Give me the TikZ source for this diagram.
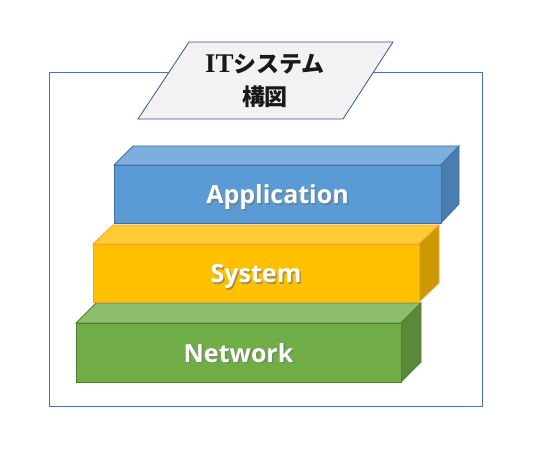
\documentclass[tikz,border=0pt]{standalone}
\usepackage{fontspec}
\setmainfont{Liberation Serif}
\newfontfamily\jpfont{Noto Sans CJK JP}
\newfontfamily\labelfont{Open Sans}
\definecolor{frameblue}{HTML}{4472C4}
\definecolor{paraline}{HTML}{2F5597}
\definecolor{parafill}{HTML}{F2F2F2}
\definecolor{appfront}{HTML}{5B9BD5}
\definecolor{apptop}{HTML}{7CAFDD}
\definecolor{appside}{HTML}{4A7EB0}
\definecolor{appline}{HTML}{41719C}
\definecolor{sysfront}{HTML}{FFC000}
\definecolor{systop}{HTML}{FFCD33}
\definecolor{sysside}{HTML}{CC9A00}
\definecolor{sysline}{HTML}{F4A040}
\definecolor{netfront}{HTML}{70AD47}
\definecolor{nettop}{HTML}{8DBE6C}
\definecolor{netside}{HTML}{5A8A39}
\definecolor{netline}{HTML}{507E32}
\tikzset{
  face/.style={line width=0.8pt, line join=miter},
  front/.style={face, inner sep=0pt},
  lbl/.style={inner sep=0pt, anchor=base, font=\labelfont\bfseries\fontsize{25}{28}\selectfont, text=white},
  shadowtxt/.style={lbl, text=black!55, opacity=0.6},
}
\begin{document}
\begin{tikzpicture}[x=1pt,y=-1pt]
\useasboundingbox (0,0) rectangle (550,460);
% outer frame
\draw[frameblue, line width=0.7pt] (49,72) rectangle (482,406);
% title parallelogram
\draw[paraline, fill=parafill, line width=0.8pt] (189,42) -- (393,42) -- (343,119) -- (138,119) -- cycle;
\node[align=center, inner sep=0pt, font=\fontsize{23}{33}\selectfont, text=black!90] (title) at (265,81) {{\fontsize{27}{33}\selectfont\bfseries IT}{\jpfont\bfseries システム}\\{\jpfont\bfseries 構図}};
% Network
\fill[nettop, draw=netline, face] (76,323) -- (96,303) -- (421,303) -- (401,323) -- cycle;
\fill[netside, draw=netline, face] (401,323) -- (421,303) -- (421,362) -- (401,382) -- cycle;
\node[front, fill=netfront, draw=netline, minimum width=325pt, minimum height=59pt] (net) at (238.5,352.5) {};
\node[shadowtxt] (netsh) at ([xshift=1.5pt,yshift=-11pt]net.center) {Network};
\node[lbl] (netlbl) at ([yshift=-9.5pt]net.center) {Network};
% System
\fill[systop, draw=sysline, face] (93,244) -- (113,225) -- (439,225) -- (419,244) -- cycle;
\fill[sysside, draw=sysline, face] (419,244) -- (439,225) -- (439,283) -- (419,302) -- cycle;
\node[front, fill=sysfront, draw=sysline, minimum width=326pt, minimum height=58pt] (sys) at (256,273) {};
\node[shadowtxt] (syssh) at ([xshift=1.5pt,yshift=-11.5pt]sys.center) {System};
\node[lbl] (syslbl) at ([yshift=-10pt]sys.center) {System};
% Application
\fill[apptop, draw=appline, face] (114,165) -- (133,146) -- (459,146) -- (441,165) -- cycle;
\fill[appside, draw=appline, face] (441,165) -- (459,146) -- (459,204) -- (441,223) -- cycle;
\node[front, fill=appfront, draw=appline, minimum width=327pt, minimum height=58pt] (app) at (277.5,194) {};
\node[shadowtxt] (appsh) at ([xshift=1.5pt,yshift=-11.5pt]app.center) {Application};
\node[lbl] (applbl) at ([yshift=-10pt]app.center) {Application};
\end{tikzpicture}
\end{document}
